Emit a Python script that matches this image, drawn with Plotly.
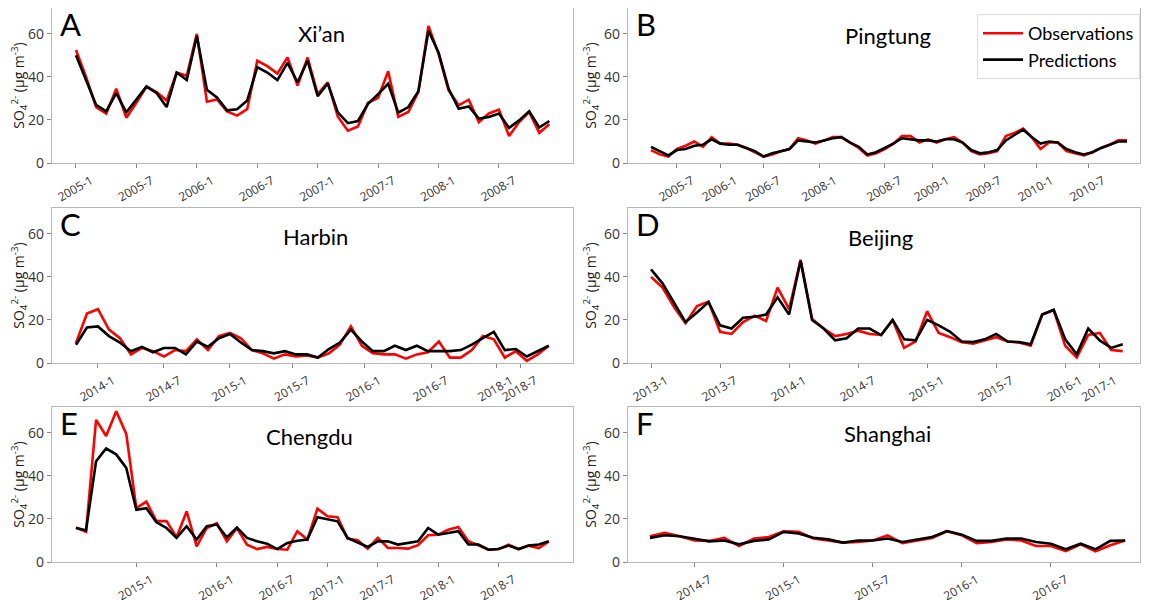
import plotly.graph_objects as go

# ---------------- data ----------------
xian_obs = [52.5, 40, 26, 23, 34.5, 21, 28, 35.5, 33, 29, 42, 40.5, 60, 28.5, 29.5, 24, 22, 25,
            47.5, 45, 41.5, 49, 36, 49, 32, 37.5, 21.5, 15, 17, 28, 30.3, 42.6, 21.4, 23.7, 33,
            63.7, 50.6, 33.7, 26.8, 29.4, 19, 23, 24.8, 12.5, 19, 23.7, 14, 18]
xian_pred = [50, 38.5, 27, 24, 32.5, 23.5, 29.5, 35.5, 32.5, 26, 42, 38.5, 59, 34, 30.5, 24.5, 25, 29,
             44.5, 42, 38.5, 46.5, 37.5, 47.5, 31, 37, 23.5, 18.5, 19.5, 27.5, 32, 36.8, 23.4, 26, 33.4,
             61.4, 51.4, 34.5, 25.2, 26.3, 20.6, 21.4, 23, 16.3, 19.8, 24, 16.5, 19.5]
xian_ticklabels = ["2005-1", "2005-7", "2006-1", "2006-7", "2007-1", "2007-7", "2008-1", "2008-7"]
xian_tickidx = [0, 6, 12, 18, 24, 30, 36, 42]

pingtung_obs = [6, 4, 3, 6.5, 8, 10, 7.5, 12, 9, 9, 8.5, 7, 5, 3, 4, 5.5, 6.5, 11.5, 10.5, 9, 10.5,
                12, 12, 9.5, 7, 3.5, 4.5, 6.5, 9, 12.5, 12.5, 9.5, 11, 9.5, 11, 12, 9.5, 5.5, 4, 4.5,
                5.5, 12.5, 14, 16, 12, 6.5, 9.5, 9.5, 5.5, 4.5, 3.5, 5, 7, 8.5, 10.5, 10.5]
pingtung_pred = [7.5, 5.5, 3.5, 6, 6.5, 8, 8.5, 11, 9, 8.5, 8.5, 7, 5.5, 3, 4.5, 5.5, 6.5, 10.5, 10, 9.5,
                 10.5, 11.5, 12, 9.5, 7.5, 4, 5, 7, 9, 11.5, 11, 10.5, 10.5, 10, 11, 11, 9.5, 6, 4.5, 5,
                 6, 10.5, 13, 15.5, 12, 9, 10, 9.5, 6.5, 5, 4, 5, 7, 8.5, 10, 10]
pingtung_ticklabels = ["2005-7", "2006-1", "2006-7", "2008-1", "2008-7", "2009-1", "2009-7", "2010-1", "2010-7"]
pingtung_tickidx = [3, 8, 13, 19.5, 27, 32.5, 38.5, 44.5, 50.5]

harbin_obs = [9.3, 23, 25, 15.5, 11.5, 4, 7, 5.5, 3, 6, 5.5, 11, 6, 12.5, 14, 11.5, 6, 4.5, 2, 4, 3,
              3.5, 2.5, 4.5, 8.5, 17, 8, 4.5, 4, 4, 2, 4, 5, 10, 2.5, 2.5, 6, 12.5, 11, 2.5, 5.5, 1, 4, 8]
harbin_pred = [8.5, 16.5, 17, 12.5, 9.5, 5.5, 7.5, 5, 7, 7, 4, 10, 7.5, 11.5, 13.5, 9.5, 6, 5.5, 4.5,
               5.5, 4, 4, 2.5, 6.5, 9.5, 15.5, 10, 5.5, 5.5, 8, 6, 8, 5.5, 5.5, 5.5, 6, 8.5, 11.5, 14.5,
               6, 6.5, 3, 5.5, 8]
harbin_ticklabels = ["2014-1", "2014-7", "2015-1", "2015-7", "2016-1", "2016-7", "2018-1", "2018-7"]
harbin_tickidx = [2, 8, 14, 19.7, 26.2, 32.3, 38.2, 40.4]

beijing_obs = [40, 35, 26, 18.5, 26.5, 28.5, 14.5, 13.5, 19, 22, 19.5, 35, 25, 48, 20.5, 16, 12.5,
               13.5, 15, 13.5, 13, 20, 7, 10, 24, 14, 12, 9.7, 9, 10.5, 12, 10, 9.5, 8, 22.5, 24.5,
               8, 2.5, 13, 14, 6, 5.5]
beijing_pred = [43.5, 37, 28, 19, 23.5, 28.3, 17.5, 16, 21, 21.5, 22.5, 30.5, 22.5, 47.5, 20, 16, 10.5,
                11.5, 16, 16, 13, 20, 11, 10.5, 20, 17.5, 14.5, 10, 9.7, 11, 13.5, 10, 9.7, 8.7, 22.5,
                24.7, 11, 4, 16, 10.5, 7, 8.7]
beijing_ticklabels = ["2013-1", "2013-7", "2014-1", "2014-7", "2015-1", "2015-7", "2016-1", "2017-1"]
beijing_tickidx = [0, 6, 12, 18, 24, 30, 36, 39]

chengdu_obs = [16, 14, 66, 58.5, 70, 59.5, 25, 28, 19, 19, 11.5, 23.5, 7.3, 15.8, 18, 9.6, 15.8, 8, 6,
               7, 6, 5.7, 14.3, 10.4, 24.8, 21.2, 20.8, 10.9, 10.1, 6.2, 11.2, 6.5, 6.5, 6.2, 7.8,
               12.4, 12.7, 15, 16.3, 9.6, 7.8, 5.7, 6, 8.1, 6, 7.6, 6.5, 9.6]
chengdu_pred = [15.8, 14.7, 46.8, 52.7, 50, 43.7, 24.3, 25, 18.5, 15.8, 11.2, 16.6, 10.4, 16.6, 17.4,
                11.5, 16, 11.2, 9.6, 8.5, 6, 8.8, 9.9, 10.4, 20.8, 19.7, 18.9, 11.2, 9.1, 7, 9.6, 9.6,
                8.1, 8.8, 9.6, 15.8, 12.7, 13.5, 14.3, 8.1, 8.1, 5.7, 6, 7.6, 6, 7.6, 8.1, 9.6]
chengdu_ticklabels = ["2015-1", "2016-1", "2016-7", "2017-1", "2017-7", "2018-1", "2018-7"]
chengdu_tickidx = [6, 14, 20, 25, 30, 36, 42]

shanghai_obs = [12, 13.5, 12, 10, 9.8, 11.2, 7.4, 10.9, 11.6, 14.3, 14, 10.9, 10, 9, 9.3, 10, 12.4,
                8.8, 10, 11.2, 14.3, 12.4, 8.8, 9.3, 10.5, 10, 7.4, 7.4, 5.1, 8.2, 5, 7.8, 10]
shanghai_pred = [11.2, 12.4, 12, 10.9, 9.6, 10, 8.2, 9.8, 10.5, 14, 13.2, 11.3, 10.5, 9, 10, 10, 10.9,
                 9.3, 10.5, 11.6, 14.4, 12.7, 9.8, 9.8, 10.9, 10.9, 9.3, 8.5, 5.9, 8.5, 5.9, 9.8, 10]
shanghai_ticklabels = ["2014-7", "2015-1", "2015-7", "2016-1", "2016-7"]
shanghai_tickidx = [3, 9, 15, 21, 27]

letters = ["A", "B", "C", "D", "E", "F"]
cities = ["Xi\u2019an", "Pingtung", "Harbin", "Beijing", "Chengdu", "Shanghai"]

# ---------------- layout geometry (screen pixels; page body has an 8px margin) ----------------
OFF = 8
W, H = 1150 - OFF, 600 - OFF
cols = [(52, 573), (628, 1140)]
rows = [(8, 163), (208, 363), (407, 562)]


def clamp(v):
    return max(0.0, min(1.0, v))


panels = [
    (xian_obs, xian_pred, xian_ticklabels, xian_tickidx, (-2.38, 49.35), 0, 0, (0.518, 0.835)),
    (pingtung_obs, pingtung_pred, pingtung_ticklabels, pingtung_tickidx, (-2.66, 56.5), 0, 1, (0.508, 0.82)),
    (harbin_obs, harbin_pred, harbin_ticklabels, harbin_tickidx, (-2.18, 45.2), 1, 0, (0.505, 0.813)),
    (beijing_obs, beijing_pred, beijing_ticklabels, beijing_tickidx, (-2.0, 42.5), 1, 1, (0.494, 0.81)),
    (chengdu_obs, chengdu_pred, chengdu_ticklabels, chengdu_tickidx, (-2.38, 49.4), 2, 0, (0.495, 0.81)),
    (shanghai_obs, shanghai_pred, shanghai_ticklabels, shanghai_tickidx, (-1.48, 33.0), 2, 1, (0.506, 0.83)),
]

fig = go.Figure()
layout = {}
annotations = []
ytitle = "SO<sub>4</sub><sup>2-</sup> (\u03bcg m<sup>-3</sup>)"
tickfont = dict(family="Open Sans, sans-serif", size=12, color="#333333")
frame = "#b8b8b8"

for i, (obs, pred, tlabels, tidx, xr, r, c, cityxy) in enumerate(panels):
    n = i + 1
    xs = "" if n == 1 else str(n)
    x0, x1 = cols[c]
    y0, y1 = rows[r]
    xdom = [clamp((x0 - OFF) / W), clamp((x1 - OFF) / W)]
    ydom = [clamp(1 - (y1 - OFF) / H), clamp(1 - (y0 - OFF) / H)]
    idx = list(range(len(obs)))
    fig.add_trace(go.Scatter(x=idx, y=obs, mode="lines", name="Observations",
                             line=dict(color="#ff0000", width=2.6), showlegend=(n == 1),
                             xaxis="x" + xs, yaxis="y" + xs))
    fig.add_trace(go.Scatter(x=idx, y=pred, mode="lines", name="Predictions",
                             line=dict(color="#000000", width=2.6), showlegend=(n == 1),
                             xaxis="x" + xs, yaxis="y" + xs))
    layout["xaxis" + xs] = dict(domain=xdom, range=list(xr), anchor="y" + xs, automargin=False,
                                tickvals=tidx, ticktext=tlabels, tickangle=-30,
                                ticklabelshift=15, ticklabelstandoff=1,
                                showline=True, mirror=True, linecolor=frame, linewidth=1.2,
                                ticks="outside", ticklen=4, tickcolor="#888888",
                                showgrid=False, zeroline=False, tickfont=tickfont)
    layout["yaxis" + xs] = dict(domain=ydom, range=[0, 72], anchor="x" + xs, automargin=False,
                                tickvals=[0, 20, 40, 60],
                                showline=True, mirror=True, linecolor=frame, linewidth=1.2,
                                ticks="outside", ticklen=4, tickcolor="#888888",
                                showgrid=False, zeroline=False,
                                tickfont=dict(family="Open Sans, sans-serif", size=14, color="#333333"),
                                title=dict(text=ytitle, standoff=4,
                                           font=dict(family="Open Sans, sans-serif", size=14, color="#222222")))
    annotations.append(dict(text=letters[i], xref="x" + xs + " domain", yref="y" + xs + " domain",
                            x=0.012, y=1.03, xanchor="left", yanchor="top", showarrow=False,
                            font=dict(family="Lato, sans-serif", size=31, color="#000000")))
    annotations.append(dict(text=cities[i], xref="x" + xs + " domain", yref="y" + xs + " domain",
                            x=cityxy[0], y=cityxy[1], xanchor="center", yanchor="middle", showarrow=False,
                            font=dict(family="Lato, sans-serif", size=22, color="#000000")))

fig.update_layout(**layout)
fig.update_layout(
    width=W, height=H, margin=dict(l=0, r=0, t=0, b=0),
    paper_bgcolor="white", plot_bgcolor="white",
    annotations=annotations,
    legend=dict(x=(1140 - OFF) / W, y=clamp(1 - (14 - OFF) / H), xanchor="right", yanchor="top",
                bgcolor="rgba(255,255,255,0.9)", bordercolor="#dddddd", borderwidth=1,
                font=dict(family="Lato, sans-serif", size=18, color="#000000"),
                tracegroupgap=0, itemwidth=40),
)

fig.write_html("out.html")
